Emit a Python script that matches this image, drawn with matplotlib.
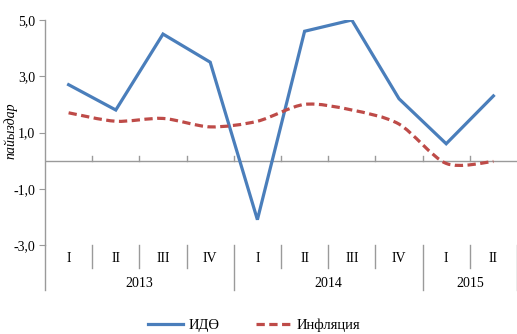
import matplotlib
matplotlib.use("Agg")
import matplotlib.pyplot as plt
from matplotlib.path import Path
from matplotlib.patches import PathPatch
from matplotlib.lines import Line2D
import numpy as np

plt.rcParams['font.family'] = ['Liberation Serif', 'DejaVu Serif']

quarters = ["I", "II", "III", "IV", "I", "II", "III", "IV", "I", "II"]
years = ["2013", "2014", "2015"]
year_sizes = [4, 4, 2]
gdp = [2.7, 1.8, 4.5, 3.5, -2.1, 4.6, 5.0, 2.2, 0.6, 2.3]
inflation = [1.7, 1.4, 1.5, 1.2, 1.4, 2.0, 1.8, 1.3, -0.1, -0.03]
yticks = [5.0, 3.0, 1.0, -1.0, -3.0]

blue = "#4A7EBB"
red = "#BE4B48"
axis_grey = "#9a9a9a"

W, H = 517, 334
fig = plt.figure(figsize=(W / 100, H / 100), dpi=100)
ax = fig.add_axes([45 / W, (H - 245) / H, 1 - 45 / W, 225 / H])

n = len(quarters)
x = np.arange(n) + 0.5
ax.set_xlim(0, n)
ax.set_ylim(-3, 5)

# GDP growth: straight segments
ax.plot(x, gdp, color=blue, lw=2.3, solid_joinstyle='miter', zorder=3)

# Inflation: smoothed curve (cubic Bezier through the points)
pts = np.column_stack([x, inflation])
verts = [tuple(pts[0])]
codes = [Path.MOVETO]
for i in range(n - 1):
    p0 = pts[i - 1] if i > 0 else pts[i]
    p1 = pts[i]
    p2 = pts[i + 1]
    p3 = pts[i + 2] if i + 2 < n else pts[i + 1]
    c1 = p1 + (p2 - p0) / 7.0
    c2 = p2 - (p3 - p1) / 7.0
    verts += [tuple(c1), tuple(c2), tuple(p2)]
    codes += [Path.CURVE4] * 3
ax.add_patch(PathPatch(Path(verts, codes), fill=False, edgecolor=red, lw=2.3,
                       linestyle=(0, (2.6, 1.4)), zorder=3))

# Horizontal axis at zero with category ticks
ax.axhline(0, color=axis_grey, lw=1.0, zorder=2)
for b in range(1, n):
    ax.plot([b, b], [0, 0.15], color=axis_grey, lw=1.0, zorder=2)

# Spines and y ticks
for s in ["top", "right", "bottom"]:
    ax.spines[s].set_visible(False)
ax.spines["left"].set_color(axis_grey)
ax.spines["left"].set_linewidth(1.0)
ax.set_yticks(yticks)
ax.set_yticklabels([f"{v:.1f}".replace(".", ",") for v in yticks], fontsize=10)
ax.tick_params(axis='y', direction='out', length=4, color=axis_grey, pad=3)
ax.set_xticks([])

# Multi-level category labels
trans = ax.get_xaxis_transform()
for i, q in enumerate(quarters):
    ax.text(i + 0.5, -0.062, q, transform=trans, ha='center', va='center', fontsize=10)
group_edges = np.concatenate([[0], np.cumsum(year_sizes)])
for b in range(0, n + 1):
    bottom = -0.20 if b in group_edges else -0.102
    ax.add_line(Line2D([b, b], [0, bottom], transform=trans, color=axis_grey,
                       lw=1.0, clip_on=False))
for yr, a, b in zip(years, group_edges[:-1], group_edges[1:]):
    ax.text((a + b) / 2, -0.169, yr, transform=trans, ha='center', va='center', fontsize=10)

fig.text(11 / W, (H - 131) / H, "пайыздар", rotation=90, style='italic',
         ha='center', va='center', fontsize=10)

handles = [Line2D([], [], color=blue, lw=2.3),
           Line2D([], [], color=red, lw=2.3, linestyle=(0, (2.6, 1.4)))]
fig.legend(handles, ["ИДӨ", "Инфляция"], loc='center', ncol=2,
           bbox_to_anchor=(254 / W, 9 / H), frameon=False, fontsize=10.5,
           handlelength=2.4, handletextpad=0.4, columnspacing=2.5)

fig.savefig("out.png", dpi=100)
